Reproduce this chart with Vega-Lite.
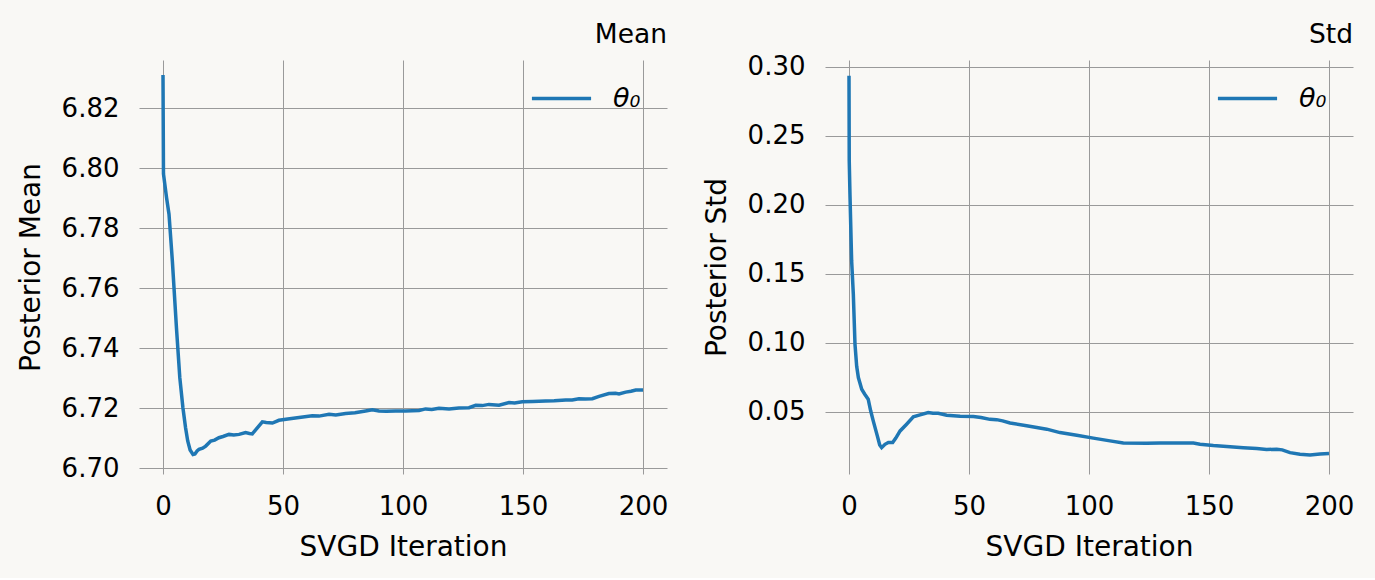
{
  "$schema": "https://vega.github.io/schema/vega-lite/v6.json",
  "background": "#f9f8f5",
  "padding": {"left": 17, "top": 21, "right": 21, "bottom": 17},
  "spacing": 35,
  "datasets": {
    "mean": [
      {"iter": 0, "value": 6.831}, {"iter": 0.2, "value": 6.798}, {"iter": 1.5, "value": 6.790}, {"iter": 2.5, "value": 6.7846},
      {"iter": 3.9, "value": 6.769}, {"iter": 5.6, "value": 6.7468}, {"iter": 7, "value": 6.7301}, {"iter": 8.3, "value": 6.7201},
      {"iter": 9.4, "value": 6.7134}, {"iter": 10.3, "value": 6.709}, {"iter": 11.3, "value": 6.706}, {"iter": 12.5, "value": 6.7045},
      {"iter": 13.3, "value": 6.7047}, {"iter": 14.2, "value": 6.7057}, {"iter": 15, "value": 6.7062}, {"iter": 16.5, "value": 6.7066},
      {"iter": 17.8, "value": 6.7073}, {"iter": 19.9, "value": 6.709}, {"iter": 21.5, "value": 6.7093}, {"iter": 23.3, "value": 6.7101},
      {"iter": 25, "value": 6.7105}, {"iter": 27.5, "value": 6.7112}, {"iter": 29.5, "value": 6.711}, {"iter": 31.7, "value": 6.7112},
      {"iter": 34.4, "value": 6.7118}, {"iter": 36, "value": 6.7115}, {"iter": 37.2, "value": 6.7114}, {"iter": 39.3, "value": 6.7134},
      {"iter": 41.4, "value": 6.7154}, {"iter": 43, "value": 6.7152}, {"iter": 45.6, "value": 6.715}, {"iter": 48.3, "value": 6.7159},
      {"iter": 52, "value": 6.7163}, {"iter": 56.7, "value": 6.7168}, {"iter": 62.2, "value": 6.7174}, {"iter": 65, "value": 6.7173},
      {"iter": 69.2, "value": 6.7179}, {"iter": 72, "value": 6.7177}, {"iter": 76.1, "value": 6.7182}, {"iter": 80, "value": 6.7184},
      {"iter": 84.4, "value": 6.719}, {"iter": 87.2, "value": 6.7194}, {"iter": 90, "value": 6.719}, {"iter": 93, "value": 6.7189},
      {"iter": 96.9, "value": 6.719}, {"iter": 101, "value": 6.719}, {"iter": 106.7, "value": 6.7192}, {"iter": 109.4, "value": 6.7197},
      {"iter": 112, "value": 6.7195}, {"iter": 115, "value": 6.7199}, {"iter": 119.2, "value": 6.7197}, {"iter": 123.3, "value": 6.72},
      {"iter": 127.5, "value": 6.7201}, {"iter": 130.3, "value": 6.7209}, {"iter": 133, "value": 6.7208}, {"iter": 135.8, "value": 6.7212},
      {"iter": 140, "value": 6.7209}, {"iter": 144.2, "value": 6.7218}, {"iter": 146.5, "value": 6.7217}, {"iter": 149.7, "value": 6.7221},
      {"iter": 154, "value": 6.7222}, {"iter": 159.4, "value": 6.7223}, {"iter": 163, "value": 6.7224}, {"iter": 167.8, "value": 6.7227},
      {"iter": 170.5, "value": 6.7227}, {"iter": 173.3, "value": 6.7231}, {"iter": 176, "value": 6.723}, {"iter": 178.9, "value": 6.7231},
      {"iter": 181.7, "value": 6.7239}, {"iter": 185.8, "value": 6.7248}, {"iter": 188.6, "value": 6.7249}, {"iter": 190, "value": 6.7247},
      {"iter": 192.8, "value": 6.7253}, {"iter": 195, "value": 6.7256}, {"iter": 197, "value": 6.726}, {"iter": 200, "value": 6.726}
    ],
    "std": [
      {"iter": 0, "value": 0.2935}, {"iter": 0.1, "value": 0.232}, {"iter": 0.4, "value": 0.2078}, {"iter": 1.1, "value": 0.1594},
      {"iter": 1.8, "value": 0.1353}, {"iter": 2.5, "value": 0.099}, {"iter": 3.2, "value": 0.083}, {"iter": 3.9, "value": 0.0749},
      {"iter": 5.3, "value": 0.0664}, {"iter": 6.5, "value": 0.063}, {"iter": 8, "value": 0.0592}, {"iter": 9, "value": 0.051},
      {"iter": 10.1, "value": 0.0435}, {"iter": 11.8, "value": 0.0326}, {"iter": 12.8, "value": 0.026}, {"iter": 13.6, "value": 0.0241},
      {"iter": 15, "value": 0.0265}, {"iter": 16.4, "value": 0.0278}, {"iter": 18.2, "value": 0.0278}, {"iter": 19.5, "value": 0.031},
      {"iter": 21.3, "value": 0.0362}, {"iter": 24, "value": 0.0411}, {"iter": 26.8, "value": 0.0464}, {"iter": 29.6, "value": 0.0478},
      {"iter": 33, "value": 0.0495}, {"iter": 35, "value": 0.049}, {"iter": 37.2, "value": 0.049}, {"iter": 40.7, "value": 0.0476},
      {"iter": 46.3, "value": 0.0468}, {"iter": 51.8, "value": 0.0467}, {"iter": 55, "value": 0.046}, {"iter": 58.75, "value": 0.0446},
      {"iter": 61.5, "value": 0.0444}, {"iter": 64, "value": 0.0435}, {"iter": 67.1, "value": 0.042}, {"iter": 74, "value": 0.0399},
      {"iter": 82.4, "value": 0.0375}, {"iter": 87.9, "value": 0.035}, {"iter": 94.9, "value": 0.0331}, {"iter": 101.8, "value": 0.031},
      {"iter": 108.75, "value": 0.029}, {"iter": 114.3, "value": 0.0275}, {"iter": 124, "value": 0.0272}, {"iter": 129.6, "value": 0.0275},
      {"iter": 136, "value": 0.0275}, {"iter": 143.5, "value": 0.0275}, {"iter": 146.25, "value": 0.0266}, {"iter": 151.8, "value": 0.0256},
      {"iter": 157.4, "value": 0.0249}, {"iter": 164.3, "value": 0.0241}, {"iter": 169.9, "value": 0.0234}, {"iter": 174, "value": 0.0227},
      {"iter": 178.2, "value": 0.023}, {"iter": 180.5, "value": 0.0225}, {"iter": 183.75, "value": 0.0205}, {"iter": 187.9, "value": 0.0193},
      {"iter": 192.1, "value": 0.0188}, {"iter": 196.25, "value": 0.0195}, {"iter": 200, "value": 0.0198}
    ]
  },
  "config": {
    "font": "DejaVu Sans",
    "view": {"stroke": null},
    "axis": {
      "domain": false,
      "ticks": false,
      "grid": true,
      "gridColor": "#9a9a9a",
      "gridWidth": 1,
      "labelFont": "DejaVu Sans",
      "labelFontSize": 26,
      "labelColor": "#000000",
      "labelPadding": 20,
      "titleFont": "DejaVu Sans",
      "titleFontSize": 28,
      "titleFontWeight": "normal",
      "titleColor": "#000000"
    },
    "axisX": {"titlePadding": 14, "labelPadding": 19},
    "axisY": {"titlePadding": 16},
    "title": {"font": "DejaVu Sans", "fontSize": 26.5, "fontWeight": "normal", "color": "#000000", "anchor": "end", "frame": "group", "baseline": "alphabetic"},
    "legend": {
      "orient": "none",
      "legendX": 391,
      "legendY": 7,
      "padding": 0,
      "title": null,
      "symbolType": "stroke",
      "symbolStrokeWidth": 3.5,
      "symbolSize": 3500,
      "labelFont": "DejaVu Sans",
      "labelFontSize": 27,
      "labelFontStyle": "italic",
      "labelColor": "#000000",
      "labelOffset": 20
    }
  },
  "hconcat": [
    {
      "title": {"text": "Mean", "offset": 12},
      "width": 528,
      "height": 414,
      "data": {"name": "mean"},
      "mark": {"type": "line", "strokeWidth": 3.5, "color": "#1f77b4"},
      "encoding": {
        "x": {"field": "iter", "type": "quantitative", "scale": {"domain": [-10, 210], "nice": false, "zero": false}, "axis": {"values": [0, 50, 100, 150, 200]}, "title": "SVGD Iteration"},
        "y": {"field": "value", "type": "quantitative", "scale": {"domain": [6.698, 6.836], "nice": false, "zero": false}, "axis": {"values": [6.70, 6.72, 6.74, 6.76, 6.78, 6.80, 6.82], "format": ".2f"}, "title": "Posterior Mean"},
        "color": {"datum": "θ₀", "type": "nominal", "scale": {"range": ["#1f77b4"]}}
      }
    },
    {
      "title": {"text": "Std", "offset": 5},
      "width": 528,
      "height": 414,
      "data": {"name": "std"},
      "mark": {"type": "line", "strokeWidth": 3.5, "color": "#1f77b4"},
      "encoding": {
        "x": {"field": "iter", "type": "quantitative", "scale": {"domain": [-10, 210], "nice": false, "zero": false}, "axis": {"values": [0, 50, 100, 150, 200]}, "title": "SVGD Iteration"},
        "y": {"field": "value", "type": "quantitative", "scale": {"domain": [0.005, 0.305], "nice": false, "zero": false}, "axis": {"values": [0.05, 0.10, 0.15, 0.20, 0.25, 0.30], "format": ".2f"}, "title": "Posterior Std"},
        "color": {"datum": "θ₀ ", "type": "nominal", "scale": {"range": ["#1f77b4"]}}
      }
    }
  ],
  "resolve": {"scale": {"color": "independent"}, "legend": {"color": "independent"}}
}
